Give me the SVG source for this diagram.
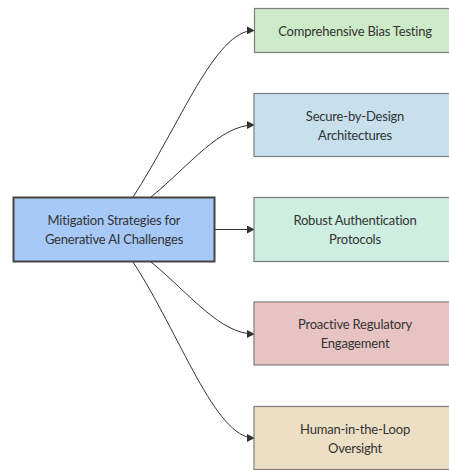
<svg xmlns="http://www.w3.org/2000/svg" width="449" height="470" viewBox="0 0 449 470">
<defs>
<style>
.lbl{font-family:"Lato","Liberation Sans",sans-serif;font-size:13px;letter-spacing:-0.2px;fill:#333;text-anchor:middle;dominant-baseline:central}
.box{stroke:#7d7d7d;stroke-width:1.2}
.edge{fill:none;stroke:#333;stroke-width:1}
</style>
<marker id="arr" viewBox="0 0 10 10" refX="9" refY="5" markerWidth="8" markerHeight="8" markerUnits="userSpaceOnUse" orient="auto">
<path d="M0,0 L10,5 L0,10 z" fill="#333"/>
</marker>
</defs>
<rect width="449" height="470" fill="#fff"/>
<g id="edges">
<path class="edge" d="M133,197 C180,125 215,30 254,30.5" marker-end="url(#arr)"/>
<path class="edge" d="M151,197 C190,165 220,125 254,125" marker-end="url(#arr)"/>
<path class="edge" d="M215,229.5 L254,229.5" marker-end="url(#arr)"/>
<path class="edge" d="M151,262 C190,294 220,334 254,334" marker-end="url(#arr)"/>
<path class="edge" d="M133,262 C180,334 215,438 254,438" marker-end="url(#arr)"/>
</g>
<g id="center">
<rect x="13.5" y="197.5" width="201" height="64" fill="#a6c9f7" stroke="#444" stroke-width="2"/>
<text class="lbl" x="114" y="220">Mitigation Strategies for</text>
<text class="lbl" x="114" y="239">Generative AI Challenges</text>
</g>
<g id="n1">
<rect class="box" x="254.5" y="8.5" width="201" height="44" fill="#cdebc8"/>
<text class="lbl" x="355" y="30.5">Comprehensive Bias Testing</text>
</g>
<g id="n2">
<rect class="box" x="254" y="93.5" width="201" height="63" fill="#c8dfee"/>
<text class="lbl" x="355" y="115.5">Secure-by-Design</text>
<text class="lbl" x="355" y="134.5">Architectures</text>
</g>
<g id="n3">
<rect class="box" x="254" y="197.5" width="201" height="64" fill="#cdeee0"/>
<text class="lbl" x="355" y="219.5">Robust Authentication</text>
<text class="lbl" x="355" y="238.5">Protocols</text>
</g>
<g id="n4">
<rect class="box" x="254" y="302" width="201" height="63" fill="#e8c3c3"/>
<text class="lbl" x="355" y="324">Proactive Regulatory</text>
<text class="lbl" x="355" y="343">Engagement</text>
</g>
<g id="n5">
<rect class="box" x="254" y="406.5" width="201" height="63" fill="#eddfc4"/>
<text class="lbl" x="355" y="428.5">Human-in-the-Loop</text>
<text class="lbl" x="355" y="447.5">Oversight</text>
</g>
</svg>
